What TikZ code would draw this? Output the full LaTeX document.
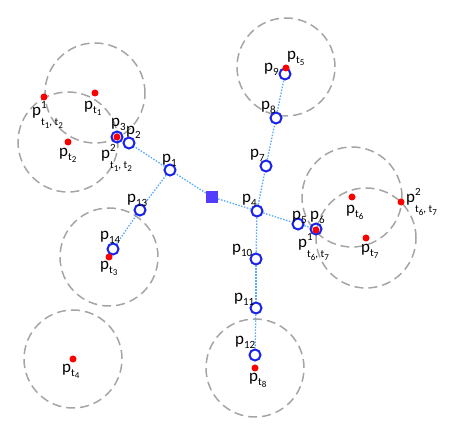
\documentclass[tikz,border=0pt]{standalone}
\usepackage{fontspec}
\setmainfont{Carlito}
\definecolor{pblue}{RGB}{25,35,235}
\definecolor{ringgray}{RGB}{165,165,165}
\definecolor{linkblue}{RGB}{90,170,250}
\definecolor{sqcol}{RGB}{85,60,250}
\newcommand\Sb[1]{\raisebox{-3.5pt}{\fontsize{11}{11}\selectfont #1}}
\newcommand\Ssb[1]{\raisebox{-2.5pt}{\fontsize{9}{9}\selectfont #1}}
\newcommand\Sp[1]{\rlap{\raisebox{7.5pt}{\fontsize{11}{11}\selectfont #1}}}
\newcommand\Lsb[1]{\raisebox{-10pt}{\fontsize{11}{11}\selectfont #1}}
\begin{document}
\begin{tikzpicture}[x=1pt,y=-1pt,
  lab/.style={anchor=base west,inner sep=0pt,font=\fontsize{17}{17}\selectfont},
  pt/.style={circle,draw=pblue,line width=2pt,minimum size=11pt,inner sep=0pt},
  tgt/.style={circle,fill=red,minimum size=7pt,inner sep=0pt},
  rng/.style={draw=ringgray,line width=1.5pt,dash pattern=on 9pt off 5pt},
  link/.style={draw=linkblue,line width=1.3pt,dash pattern=on 1.5pt off 1.5pt}]
\useasboundingbox (0,0) rectangle (464,438);
% rings
\draw[rng] (95,93) circle[radius=50pt];
\draw[rng] (68,142) circle[radius=50pt];
\draw[rng] (109,257) circle[radius=49pt];
\draw[rng] (73,359) circle[radius=49pt];
\draw[rng] (286,67) circle[radius=49pt];
\draw[rng] (352,197) circle[radius=50pt];
\draw[rng] (366,238) circle[radius=50pt];
\draw[rng] (255,368) circle[radius=49pt];
% square
\node[rectangle,fill=sqcol,minimum size=12pt,inner sep=0pt] (sq) at (212,197) {};
% path points
\node[pt] (p1) at (170,170) {};
\node[pt] (p2) at (129,143) {};
\node[pt] (p3) at (117,137) {};
\node[pt] (p4) at (257,211) {};
\node[pt] (p5) at (298,224) {};
\node[pt] (p6) at (316,229) {};
\node[pt] (p7) at (266,166) {};
\node[pt] (p8) at (276,118) {};
\node[pt] (p9) at (285,74) {};
\node[pt] (p10) at (256,259) {};
\node[pt] (p11) at (256,308) {};
\node[pt] (p12) at (255,355) {};
\node[pt] (p13) at (140,210) {};
\node[pt] (p14) at (113,249) {};
% links
\draw[link] (sq) -- (p1);
\draw[link] (p1) -- (p2);
\draw[link] (p1) -- (p13);
\draw[link] (p13) -- (p14);
\draw[link] (sq) -- (p4);
\draw[link] (p4) -- (p5);
\draw[link] (p5) -- (p6);
\draw[link] (p4) -- (p7);
\draw[link] (p7) -- (p8);
\draw[link] (p8) -- (p9);
\draw[link] (p4) -- (p10);
\draw[link] (p10) -- (p11);
\draw[link] (p11) -- (p12);
% targets and intersections
\node[tgt] (t1) at (95,93) {};
\node[tgt] (t2) at (68,142) {};
\node[tgt] (t3) at (109,257) {};
\node[tgt] (t4) at (73,359) {};
\node[tgt] (t5) at (286,68) {};
\node[tgt] (t6) at (352,197) {};
\node[tgt] (t7) at (366,238) {};
\node[tgt] (t8) at (255,368) {};
\node[tgt] (i12a) at (44,97) {};
\node[tgt] (i12b) at (117,137) {};
\node[tgt] (i67a) at (316,230) {};
\node[tgt] (i67b) at (401,202) {};
% labels
\node[lab] (lt1) at (84,110) {p\Sb{t\Ssb{1}}};
\node[lab] (lt2) at (59,157) {p\Sb{t\Ssb{2}}};
\node[lab] (lt3) at (100,270) {p\Sb{t\Ssb{3}}};
\node[lab] (lt4) at (62,373) {p\Sb{t\Ssb{4}}};
\node[lab] (lt5) at (287,60) {p\Sb{t\Ssb{5}}};
\node[lab] (lt6) at (346,214) {p\Sb{t\Ssb{6}}};
\node[lab] (lt7) at (361,253) {p\Sb{t\Ssb{7}}};
\node[lab] (lt8) at (249,382) {p\Sb{t\Ssb{8}}};
\node[lab] (li12a) at (32,116) {p\Sp{1}\Lsb{t\Ssb{1}, t\Ssb{2}}};
\node[lab] (li12b) at (101,159) {p\Sp{2}\Lsb{t\Ssb{1}, t\Ssb{2}}};
\node[lab] (li67a) at (298,248) {p\Sp{1}\Lsb{t\Ssb{6}, t\Ssb{7}}};
\node[lab] (li67b) at (406,203) {p\Sp{2}\Lsb{t\Ssb{6}, t\Ssb{7}}};
\node[lab] (l1) at (162,163) {p\Sb{1}};
\node[lab] (l2) at (126,135) {p\Sb{2}};
\node[lab] (l3) at (111,127) {p\Sb{3}};
\node[lab] (l4) at (242,203) {p\Sb{4}};
\node[lab] (l5) at (292,220) {p\Sb{5}};
\node[lab] (l6) at (310,220) {p\Sb{6}};
\node[lab] (l7) at (250,158) {p\Sb{7}};
\node[lab] (l8) at (261,110) {p\Sb{8}};
\node[lab] (l9) at (264,72) {p\Sb{9}};
\node[lab] (l10) at (232,253) {p\Sb{10}};
\node[lab] (l11) at (234,302) {p\Sb{11}};
\node[lab] (l12) at (235,345) {p\Sb{12}};
\node[lab] (l13) at (127,203) {p\Sb{13}};
\node[lab] (l14) at (100,240) {p\Sb{14}};
\end{tikzpicture}
\end{document}
